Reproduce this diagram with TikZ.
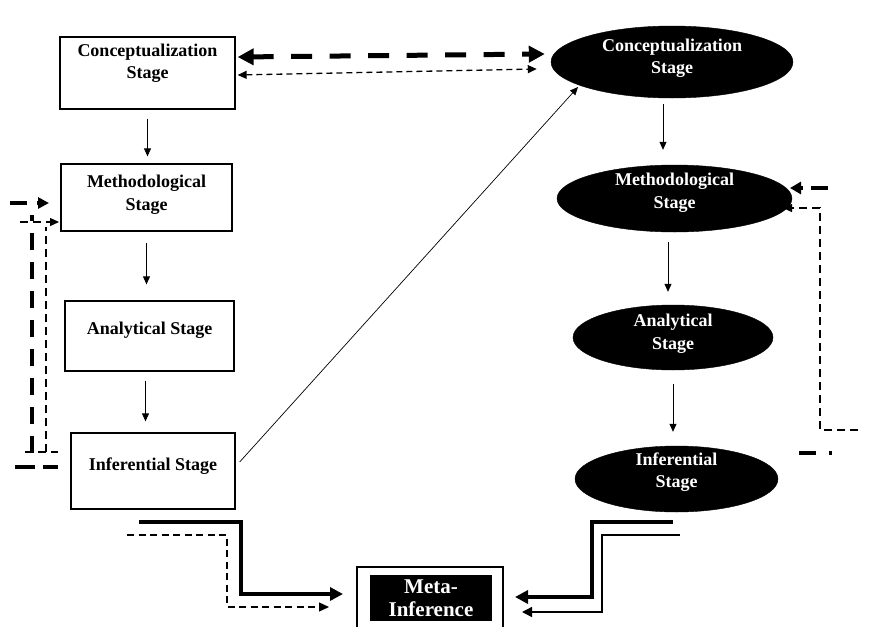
\documentclass[tikz,border=0pt]{standalone}
\usepackage{fontspec}
\setmainfont{Liberation Serif}
\usetikzlibrary{arrows.meta,shapes.geometric}
\begin{document}
\begin{tikzpicture}[x=1pt,y=-1pt,
  box/.style={draw, line width=1.3pt, inner sep=0pt},
  ell/.style={ellipse, fill=black, draw=black, inner sep=0pt},
  lbl/.style={font=\bfseries\fontsize{18}{22.5}\selectfont, align=center, inner sep=0pt},
  wlbl/.style={lbl, text=white},
  arr/.style={-{Triangle[length=8pt,width=7pt]}, line width=0.8pt},
  thickdash/.style={line width=5pt, dash pattern=on 21pt off 17.5pt,
     {Triangle[length=16pt,width=16pt]}-{Triangle[length=16pt,width=16pt]}},
  thindash/.style={line width=1.3pt, dash pattern=on 6pt off 4pt,
     {Triangle[length=9pt,width=8pt]}-{Triangle[length=9pt,width=8pt]}},
  fbthick/.style={line width=4pt, dash pattern=on 17pt off 12pt},
  fbthin/.style={line width=1.3pt, dash pattern=on 8pt off 5pt},
  solidthick/.style={line width=3.5pt, -{Triangle[length=13pt,width=13pt]}},
  solidthin/.style={line width=1.4pt, -{Triangle[length=10pt,width=10pt]}},
  dashthin/.style={line width=1.3pt, dash pattern=on 7pt off 4.5pt, -{Triangle[length=10pt,width=9pt]}}
]
\useasboundingbox (0,0) rectangle (879,627);
\clip (0,0) rectangle (879,627);

% left column boxes
\node[box, minimum width=175pt, minimum height=72pt] (c1) at (147.5,73) {};
\node[lbl] (c1t) at ([yshift=10pt]c1.center) {Conceptualization\\Stage};
\node[box, minimum width=171pt, minimum height=67pt] (m1) at (146.5,197.5) {};
\node[lbl] (m1t) at ([yshift=3pt]m1.center) {Methodological\\Stage};
\node[box, minimum width=169pt, minimum height=70pt] (a1) at (149.5,336) {};
\node[lbl] (a1t) at ([yshift=6pt]a1.center) {Analytical Stage};
\node[box, minimum width=164pt, minimum height=76pt] (i1) at (153,471) {};
\node[lbl] (i1t) at ([yshift=5pt]i1.center) {Inferential Stage};

% right column ellipses
\node[ell, minimum width=242pt, minimum height=72pt] (e1) at (672,62) {};
\node[wlbl] (e1t) at ([yshift=4pt]e1.center) {Conceptualization\\Stage};
\node[ell, minimum width=235pt, minimum height=67pt] (e2) at (674.5,198.5) {};
\node[wlbl] (e2t) at ([yshift=6pt]e2.center) {Methodological\\Stage};
\node[ell, minimum width=200pt, minimum height=65pt] (e3) at (673,337.5) {};
\node[wlbl] (e3t) at ([yshift=4pt]e3.center) {Analytical\\Stage};
\node[ell, minimum width=203pt, minimum height=66pt] (e4) at (676.5,479) {};
\node[wlbl] (e4t) at ([yshift=7pt]e4.center) {Inferential\\Stage};

% meta-inference
\node[box, line width=1.5pt, minimum width=146pt, minimum height=66pt] (meta) at (430,600) {};
\node[fill=black, minimum width=122pt, minimum height=46pt, inner sep=0pt] (metain) at (431,598) {};
\node[wlbl, font=\bfseries\fontsize{21}{23}\selectfont] (metat) at (metain.center) {Meta-\\Inference};

% left vertical arrows
\draw[arr, shorten <=9pt, shorten >=7pt] (c1.south) -- (c1.south |- m1.north);
\draw[arr, shorten <=11pt, shorten >=16pt] (m1.south) -- (m1.south |- a1.north);
\coordinate (a1s) at ([xshift=-4pt]a1.south);
\draw[arr, shorten <=9pt, shorten >=11pt] (a1s) -- (a1s |- i1.north);

% right vertical arrows
\coordinate (e1s) at ([xshift=-9pt]e1.south);
\draw[arr, shorten <=6pt, shorten >=15pt] (e1s) -- (e1s |- e2.north);
\coordinate (e2s) at ([xshift=-6.5pt]e2.south);
\draw[arr, shorten <=10pt, shorten >=13pt] (e2s) -- (e2s |- e3.north);
\coordinate (e3s) at (e3.south);
\draw[arr, shorten <=14pt, shorten >=14pt] (e3s) -- (e3s |- e4.north);

% top double arrows
\draw[thickdash] ([xshift=2pt,yshift=16pt]c1.east) -- ([xshift=-6pt,yshift=8pt]e1.west);
\draw[thindash] ([xshift=2pt,yshift=-2pt]c1.east) -- ([xshift=-14pt,yshift=-7pt]e1.west);

% diagonal
\coordinate (dg) at ([xshift=-94pt,yshift=-25pt]e1.center);
\draw[arr, line width=0.7pt] ([xshift=4pt,yshift=9pt]i1.east) -- (dg);

% left feedback fragments
\coordinate (lb1) at (15,467);  \coordinate (lb2) at (58,467);
\coordinate (lv1) at (32,453);  \coordinate (lv2) at (32,215);
\coordinate (lt1) at (10,203);  \coordinate (lt2) at (49,203);
\draw[fbthick, dash pattern=on 20pt off 8pt] (lb1) -- (lb2);
\draw[fbthick] (lv1) -- (lv2);
\draw[fbthick, dash pattern=on 17pt off 10pt, -{Triangle[length=11pt,width=11pt]}] (lt1) -- (lt2);
\coordinate (ln1) at (25,452);  \coordinate (ln2) at (58,452);
\coordinate (ln3) at (46,452);  \coordinate (ln4) at (46,227);
\coordinate (ln5) at (20,222);  \coordinate (ln6) at (59,222);
\draw[fbthin] (ln1) -- (ln2);
\draw[fbthin] (ln3) -- (ln4);
\draw[fbthin, -{Triangle[length=9pt,width=8pt]}] (ln5) -- (ln6);

% right feedback fragments
\coordinate (rt1) at (828,188);  \coordinate (rt2) at (790,188);
\draw[fbthick, dash pattern=on 17pt off 8pt, -{Triangle[length=11pt,width=12pt]}] (rt1) -- (rt2);
\coordinate (rb1) at (799,453);  \coordinate (rb2) at (832,453);
\draw[fbthick, dash pattern=on 17pt off 13pt] (rb1) -- (rb2);
\coordinate (rn1) at (858,430);  \coordinate (rn2) at (820,430);
\coordinate (rn3) at (820,208);  \coordinate (rn4) at (783,208);
\draw[fbthin, -{Triangle[length=9pt,width=8pt]}] (rn1) -- (rn2) -- (rn3) -- (rn4);

% bottom left to meta
\coordinate (bl1) at (139,522);  \coordinate (bl2) at (241,522);
\coordinate (bl3) at (241,594);  \coordinate (bl4) at (343,594);
\draw[solidthick] (bl1) -- (bl2) -- (bl3) -- (bl4);
\coordinate (bd1) at (127,535);  \coordinate (bd2) at (227,535);
\coordinate (bd3) at (227,607);  \coordinate (bd4) at (329,607);
\draw[dashthin] (bd1) -- (bd2) -- (bd3) -- (bd4);

% bottom right to meta
\coordinate (br1) at (673,522);  \coordinate (br2) at (592,522);
\coordinate (br3) at (592,597);  \coordinate (br4) at (515,597);
\draw[solidthick] (br1) -- (br2) -- (br3) -- (br4);
\coordinate (bn1) at (680,535);  \coordinate (bn2) at (602,535);
\coordinate (bn3) at (602,612);  \coordinate (bn4) at (522,612);
\draw[solidthin] (bn1) -- (bn2) -- (bn3) -- (bn4);
\end{tikzpicture}
\end{document}
